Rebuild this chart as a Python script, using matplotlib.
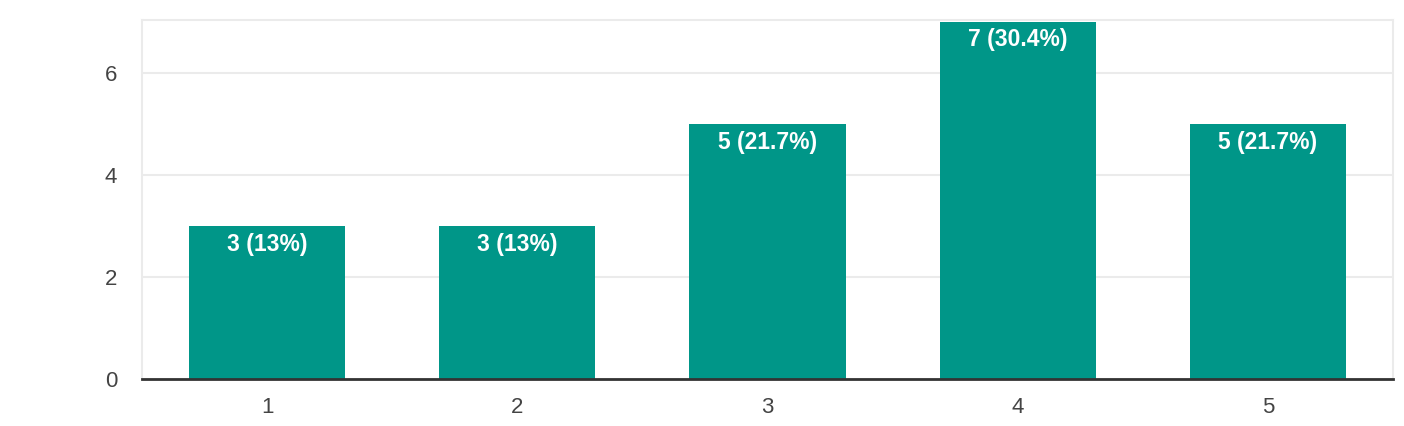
import matplotlib
matplotlib.use('Agg')
import matplotlib.pyplot as plt

categories = ['1', '2', '3', '4', '5']
counts = [3, 3, 5, 7, 5]
labels = ['3 (13%)', '3 (13%)', '5 (21.7%)', '7 (30.4%)', '5 (21.7%)']
yticks = [0, 2, 4, 6]

plt.rcParams['font.family'] = ['Liberation Sans', 'DejaVu Sans']

fig = plt.figure(figsize=(14.04, 4.26), dpi=100)
ax = fig.add_axes([142 / 1404, 1 - 379 / 426, 1251 / 1404, 359 / 426])

x = range(len(categories))
bars = ax.bar(x, counts, width=0.624, color='#009688', zorder=2)

# count (percent) labels sit inside the top of each bar
for rect, lab in zip(bars, labels):
    ax.annotate(lab, (rect.get_x() + rect.get_width() / 2, rect.get_height()),
                xytext=(0, -5), textcoords='offset points', ha='center', va='top',
                color='white', fontsize=16.5, fontweight='bold', zorder=3)

ax.set_xlim(-0.5, len(categories) - 0.5)
ax.set_ylim(0, 7.03)
ax.set_xticks(list(x))
ax.set_xticklabels(categories)
ax.set_yticks(yticks)
ax.yaxis.grid(True, color='#ebebeb', linewidth=1.5, zorder=0)
ax.set_axisbelow(True)

for side in ['left', 'right', 'top']:
    ax.spines[side].set_color('#ebebeb')
    ax.spines[side].set_linewidth(1.5)
ax.spines['bottom'].set_color('#333333')
ax.spines['bottom'].set_linewidth(2)
ax.spines['bottom'].set_zorder(4)

ax.tick_params(axis='both', length=0, labelsize=16, colors='#444444')
ax.tick_params(axis='y', pad=18)
ax.tick_params(axis='x', pad=13)

fig.savefig('out.png', dpi=100)
